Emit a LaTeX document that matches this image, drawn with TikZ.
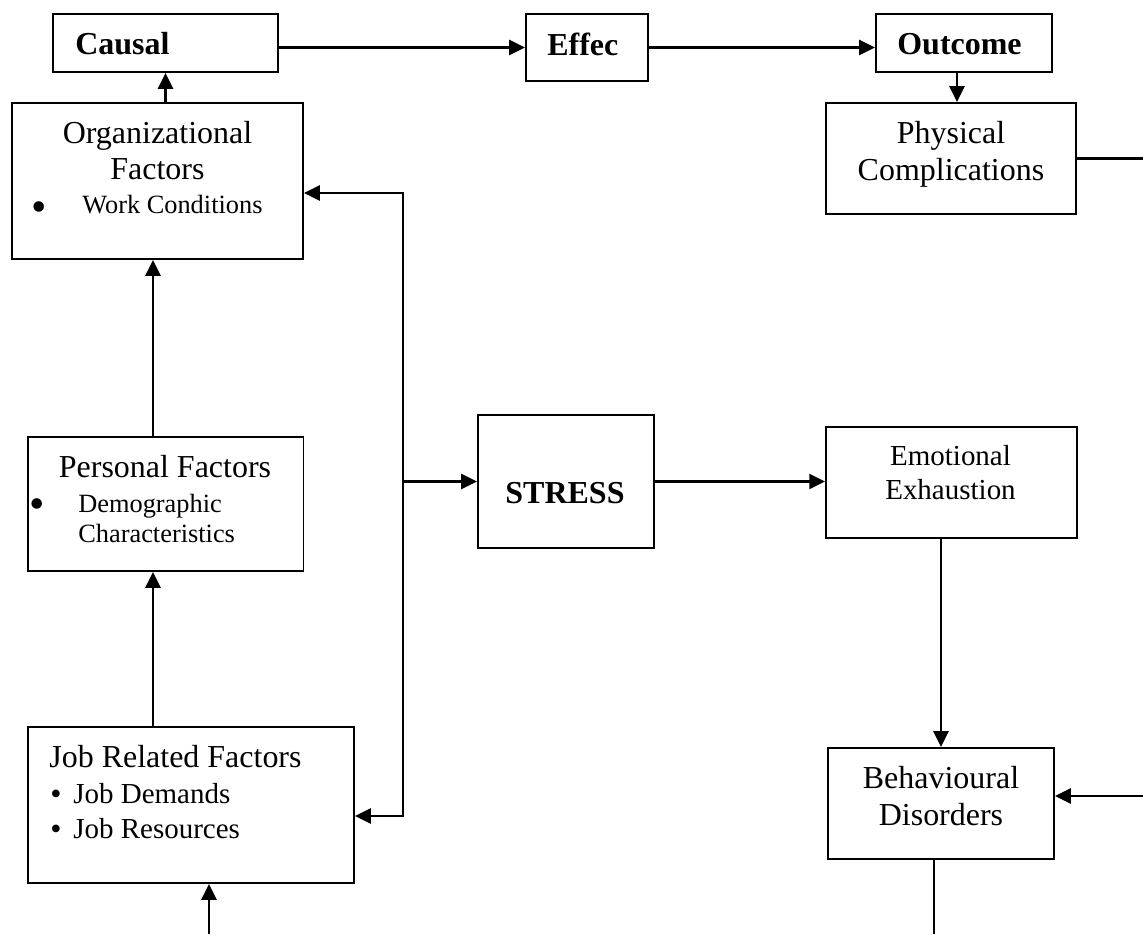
\documentclass[tikz,border=0pt]{standalone}
\usepackage{fontspec}
\setmainfont{Liberation Serif}
\usepackage{tikz}
\usetikzlibrary{positioning,calc,arrows.meta}

\tikzset{
    box/.style={draw, rectangle, line width=1.1pt, inner sep=0pt},
    txt/.style={inner sep=0pt, font=\fontsize{18.2}{22}\selectfont},
    midtxt/.style={inner sep=0pt, font=\fontsize{16.5}{20}\selectfont},
    smalltxt/.style={inner sep=0pt, font=\fontsize{15}{18}\selectfont},
    dot/.style={inner sep=0pt, anchor=base, font=\fontsize{25}{28}\selectfont},
    conn/.style={line width=1.35pt},
    arr/.style={conn, -{Triangle[length=9pt,width=8.5pt]}},
    arrboth/.style={conn, {Triangle[length=9pt,width=8.5pt]}-{Triangle[length=9pt,width=8.5pt]}}
}

\begin{document}
\begin{tikzpicture}[x=0.02cm, y=-0.02cm]
    \useasboundingbox (0,0) rectangle (1143,934);

    % top row
    \node[box, minimum width=4.5cm, minimum height=1.16cm] (causal) at (165.5,43) {};
    \node[txt, anchor=base west] (causal-t) at (75,54) {\textbf{Causal}};
    \node[box, minimum width=2.44cm, minimum height=1.34cm] (effec) at (587,47.5) {};
    \node[txt, anchor=base west] (effec-t) at (547,55) {\textbf{Effec}};
    \node[box, minimum width=3.52cm, minimum height=1.16cm] (outcome) at (964,43) {};
    \node[txt, anchor=base west] (outcome-t) at (897,54) {\textbf{Outcome}};

    % causal side
    \node[box, minimum width=5.82cm, minimum height=3.12cm] (org) at (157.5,181) {};
    \node[txt, anchor=base] (org-t1) at (157.5,143) {Organizational};
    \node[txt, anchor=base] (org-t2) at (157.5,179) {Factors};
    \node[dot] (org-b) at (39,221.7) {\textbullet};
    \node[smalltxt, anchor=base west] (org-t3) at (82,213) {Work Conditions};

    \node[box, minimum width=5.51cm, minimum height=2.68cm] (pers) at (165.75,504) {};
    \node[txt, anchor=base] (pers-t1) at (165,477) {Personal Factors};
    \node[dot] (pers-b) at (37,518.2) {\textbullet};
    \node[smalltxt, anchor=base west] (pers-t2) at (78,512) {Demographic};
    \node[smalltxt, anchor=base west] (pers-t3) at (78,542) {Characteristics};

    \node[box, minimum width=6.52cm, minimum height=3.12cm] (job) at (191,805) {};
    \node[txt, anchor=base west] (job-t1) at (49,767) {Job Related Factors};
    \node[txt, anchor=base] (job-b1) at (56,804.5) {\textbullet};
    \node[midtxt, anchor=base west] (job-t2) at (73,803) {Job Demands};
    \node[txt, anchor=base] (job-b2) at (56,839.5) {\textbullet};
    \node[midtxt, anchor=base west] (job-t3) at (73,838) {Job Resources};

    % stress
    \node[box, minimum width=3.52cm, minimum height=2.66cm] (stress) at (566,481.5) {};
    \node[txt, anchor=base] (stress-t) at (565,503) {\textbf{STRESS}};

    % outcome side
    \node[box, minimum width=5cm, minimum height=2.22cm] (phys) at (951,158.5) {};
    \node[txt, anchor=base] (phys-t1) at (951,143) {Physical};
    \node[txt, anchor=base] (phys-t2) at (951,180) {Complications};

    \node[box, minimum width=5.02cm, minimum height=2.22cm] (emo) at (951.5,482.5) {};
    \node[midtxt, anchor=base] (emo-t1) at (950.5,465) {Emotional};
    \node[midtxt, anchor=base] (emo-t2) at (950.5,499) {Exhaustion};

    \node[box, minimum width=4.52cm, minimum height=2.22cm] (behav) at (941,803.5) {};
    \node[txt, anchor=base] (behav-t1) at (941,788) {Behavioural};
    \node[txt, anchor=base] (behav-t2) at (941,825) {Disorders};

    % free ends
    \coordinate (physout) at (1143,158.5);
    \coordinate (jobin) at (209,934);
    \coordinate (bustop) at (403,193);
    \coordinate (busbot) at (403,816);
    \coordinate (behin) at (1143,796);
    \coordinate (behout) at (934,934);

    % connectors
    \draw[arr] (causal.east |- effec.west) -- (effec.west);
    \draw[arr] (effec.east) -- (effec.east -| outcome.west);
    \draw[arr] ($(outcome.south)+(-7,0)$) -- ($(phys.north)+(6,0)$);
    \draw[conn] (phys.east) -- (physout);
    \draw[arr] (org.north -| causal.south) -- (causal.south);
    \draw[arr] ($(pers.north)+(-12.75,0)$) -- ($(org.south)+(-4.5,0)$);
    \draw[arr] ($(job.north)+(-38,0)$) -- ($(pers.south)+(-12.75,0)$);
    \draw[arr] (jobin) -- (jobin |- job.south);
    \draw[arrboth] (bustop -| org.east) -- (bustop) -- (busbot) -- (busbot -| job.east);
    \draw[arr] (stress.west -| bustop) -- (stress.west);
    \draw[arr] (stress.east) -- (stress.east -| emo.west);
    \draw[arr] (emo.south -| behav.north) -- (behav.north);
    \draw[arr] (behin) -- (behin -| behav.east);
    \draw[conn] (behav.south -| behout) -- (behout);
\end{tikzpicture}
\end{document}
